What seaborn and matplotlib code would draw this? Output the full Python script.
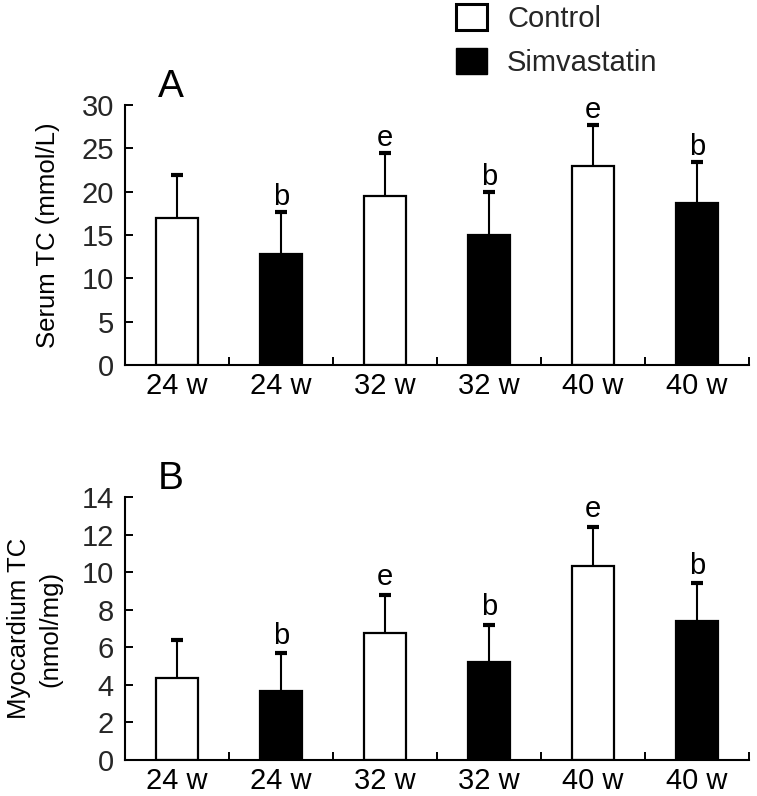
import matplotlib
matplotlib.use('Agg')
import matplotlib.pyplot as plt
import seaborn as sns
import pandas as pd
import numpy as np
from matplotlib.patches import Patch
from matplotlib.ticker import FixedLocator

# ---- data ----
groups = ['Control 24 w', 'Simvastatin 24 w', 'Control 32 w',
          'Simvastatin 32 w', 'Control 40 w', 'Simvastatin 40 w']
treatment = ['Control', 'Simvastatin', 'Control', 'Simvastatin', 'Control', 'Simvastatin']
tick_labels = ['24 w', '24 w', '32 w', '32 w', '40 w', '40 w']

serum_mean = [17.0, 12.8, 19.5, 15.0, 23.0, 18.7]
serum_sd = [4.9, 4.9, 4.95, 4.95, 4.75, 4.75]
serum_letters = ['', 'b', 'e', 'b', 'e', 'b']

myo_mean = [4.37, 3.69, 6.78, 5.23, 10.34, 7.40]
myo_sd = [2.01, 1.98, 1.99, 1.96, 2.06, 2.00]
myo_letters = ['', 'b', 'e', 'b', 'e', 'b']

sns.set_theme(style='white')
plt.rcParams['font.family'] = ['Liberation Sans', 'DejaVu Sans']

W, H = 757, 796
fig = plt.figure(figsize=(W / 100, H / 100), dpi=100)


def fx(px):
    return px / W


def fy(py):
    return 1 - py / H


axA = fig.add_axes([fx(125), fy(365), fx(749) - fx(125), fy(105) - fy(365)])
axB = fig.add_axes([fx(125), fy(760), fx(749) - fx(125), fy(497) - fy(760)])

palette = {'Control': 'white', 'Simvastatin': 'black'}


def panel(ax, mean, sd, letters, ymax, step, ylabel, letter_off, panel_letter, label_x):
    df = pd.DataFrame({'group': groups, 'value': mean, 'treatment': treatment})
    sns.barplot(data=df, x='group', y='value', hue='treatment', order=groups,
                hue_order=['Control', 'Simvastatin'], palette=palette, dodge=False,
                width=0.41, edgecolor='black', linewidth=1.6, errorbar=None,
                legend=False, ax=ax, saturation=1)
    bars = sorted(ax.patches, key=lambda p: p.get_x())
    for i, p in enumerate(bars):
        cx = p.get_x() + p.get_width() / 2
        top = p.get_height()
        eb = ax.errorbar(cx, top, yerr=[[0], [sd[i]]], fmt='none', ecolor='black',
                         elinewidth=1.5, capsize=4, capthick=3, zorder=1)
        caps = eb[1]
        if len(caps) == 2:
            caps[0].set_visible(False)
        if letters[i]:
            ax.text(cx, top + sd[i] + letter_off, letters[i], ha='center',
                    va='bottom', fontsize=21, color='black')
    ax.set_xlim(-0.5, 5.5)
    ax.set_ylim(0, ymax)
    ax.set_yticks(np.arange(0, ymax + 0.01, step))
    ax.set_xticks(range(6))
    ax.set_xticklabels(tick_labels)
    ax.xaxis.set_minor_locator(FixedLocator(np.arange(-0.5, 6.0, 1.0)))
    ax.tick_params(axis='x', which='major', length=0, labelsize=21, pad=5, colors='black')
    ax.tick_params(axis='x', which='minor', direction='in', length=6, width=1.4,
                   color='black', bottom=True)
    ax.tick_params(axis='y', which='major', direction='in', length=6, width=1.4,
                   labelsize=21, pad=8, color='black', left=True)
    for s in ['top', 'right']:
        ax.spines[s].set_visible(False)
    for s in ['left', 'bottom']:
        ax.spines[s].set_color('black')
        ax.spines[s].set_linewidth(1.5)
    ax.set_xlabel('')
    ax.set_ylabel(ylabel, fontsize=18.5, color='black', linespacing=1.35)
    ax.yaxis.set_label_coords(label_x, 0.5)
    ax.text(0.052, 1.0, panel_letter, transform=ax.transAxes, fontsize=28,
            ha='left', va='bottom', color='black')


panel(axA, serum_mean, serum_sd, serum_letters, 30, 5, 'Serum TC (mmol/L)',
      0.1, 'A', -0.104)
panel(axB, myo_mean, myo_sd, myo_letters, 14, 2, 'Myocardium TC\n(nmol/mg)',
      0.2, 'B', -0.101)

handles = [Patch(facecolor='white', edgecolor='black', linewidth=2.2),
           Patch(facecolor='black', edgecolor='black')]
fig.legend(handles, ['Control', 'Simvastatin'], loc='upper left',
           bbox_to_anchor=(fx(456), fy(4)), frameon=False, fontsize=21,
           handlelength=1.05, handleheight=1.0, handletextpad=0.7,
           labelspacing=0.5, borderpad=0, borderaxespad=0)

fig.savefig('out.png', dpi=100)
